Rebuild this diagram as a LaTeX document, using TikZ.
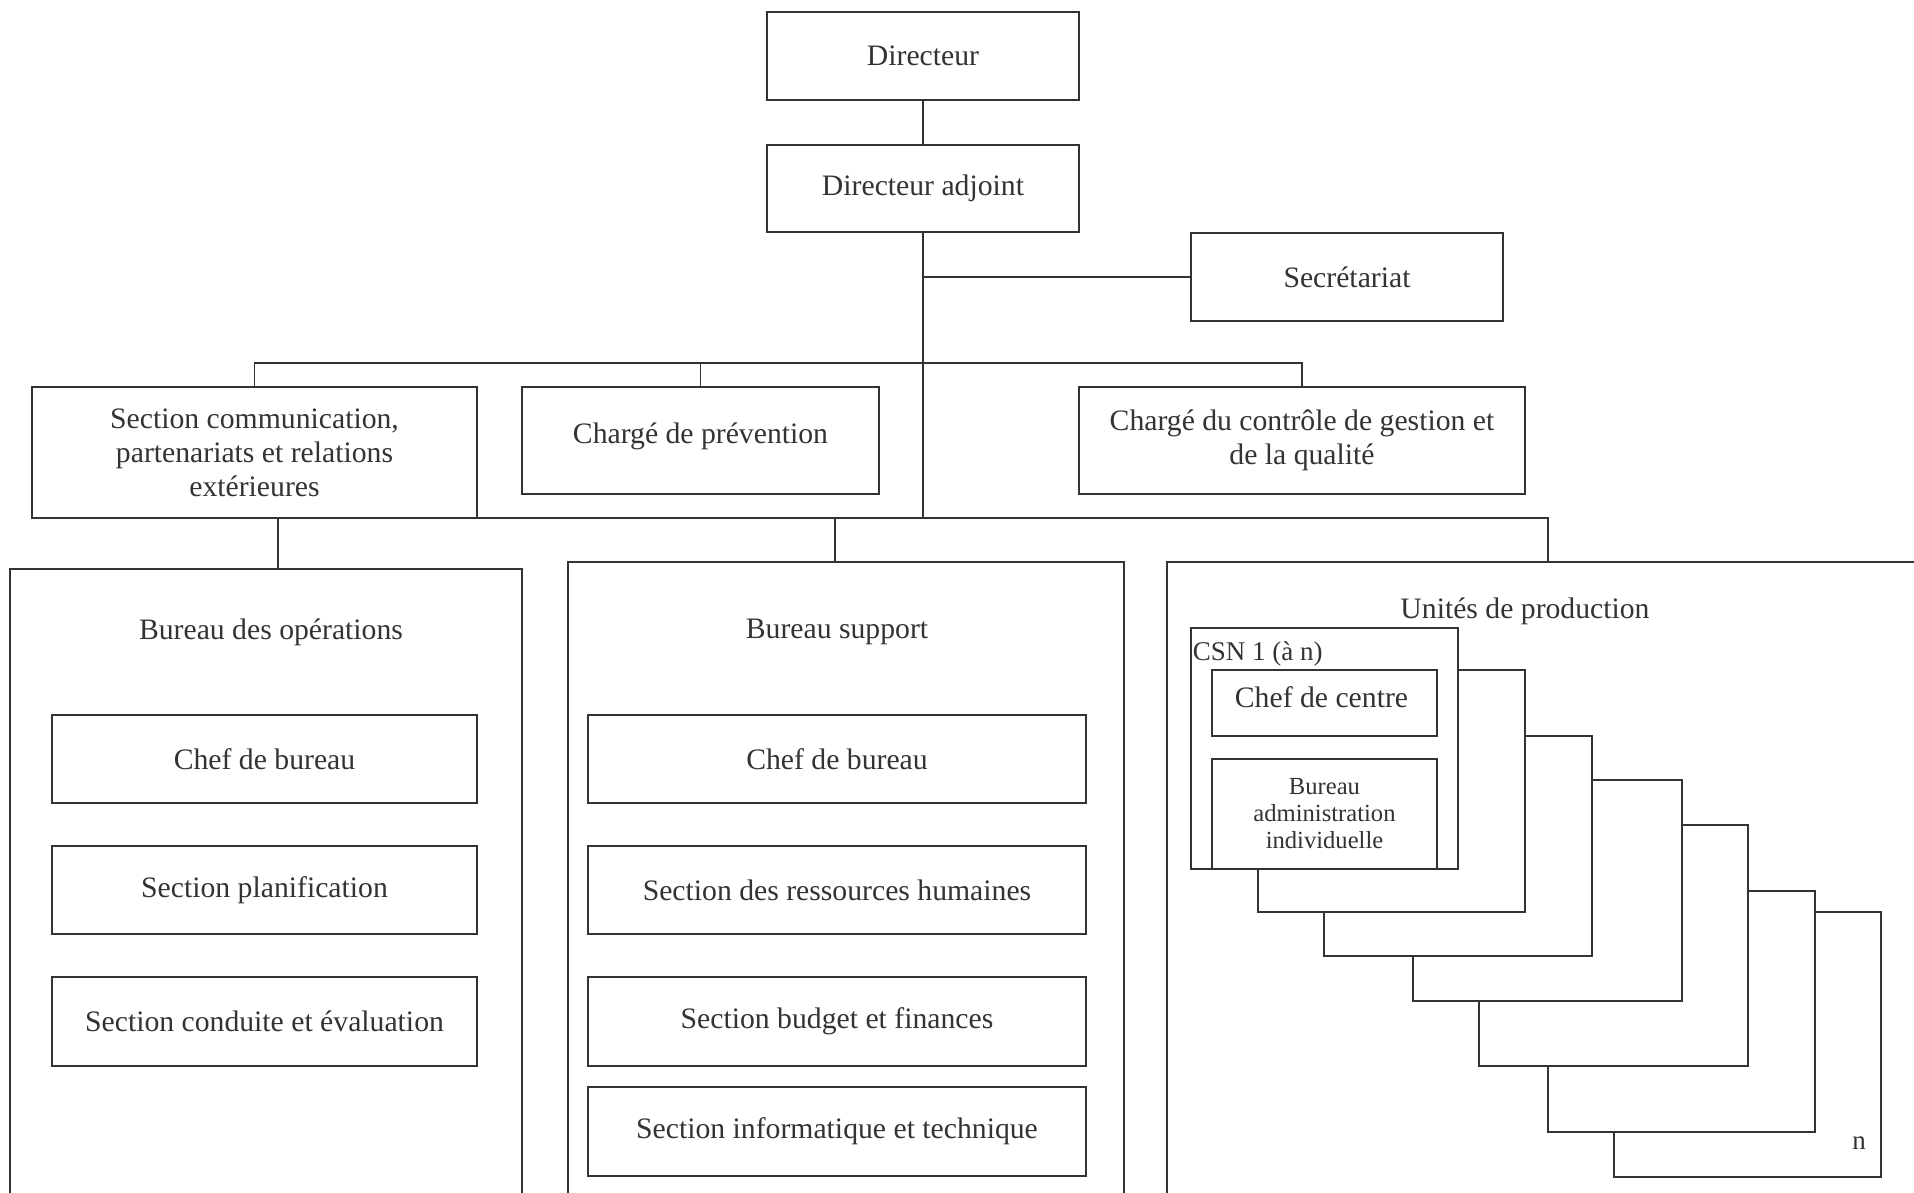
\documentclass[tikz,border=0pt]{standalone}
\usepackage{fontspec}
\setmainfont{Liberation Serif}
\definecolor{ink}{HTML}{333333}
\begin{document}
\begin{tikzpicture}[x=1pt,y=-1pt,line width=1.6pt,color=ink,
  box/.style={draw,fill=white,outer sep=0pt,inner sep=4pt,align=center,
    font=\fontsize{29.7}{34}\selectfont},
  panel/.style={draw,outer sep=0pt,inner sep=0pt},
  card/.style={draw,fill=white,outer sep=0pt,inner sep=0pt},
  txt/.style={inner sep=0pt,align=center,font=\fontsize{29.7}{34}\selectfont}]
\useasboundingbox (0,0) rectangle (1914,1192);
\clip (0,0) rectangle (1914,1192);

% open frames of the three lower divisions
\node[panel,minimum width=512pt,minimum height=700pt,anchor=north] (ops) at (266,569) {};
\node[panel,minimum width=556pt,minimum height=700pt,anchor=north] (supp) at (846,562) {};
\node[panel,minimum width=780pt,minimum height=700pt,anchor=north] (uni) at (1557,562) {};
\coordinate (opsin) at (278,569);
\coordinate (suppin) at (835,562);
\coordinate (uniin) at (1548,562);

% direction
\node[box,minimum width=312pt,minimum height=88pt] (dir) at (923,56) {Directeur};
\node[box,minimum width=312pt,minimum height=87pt] (da) at (923,188.5) {Directeur adjoint};
\node[box,minimum width=312pt,minimum height=88pt] (sec) at (1347,277) {Secrétariat};

% staff positions
\node[box,minimum width=445pt,minimum height=131pt] (comm) at (254.5,452.5)
  {Section communication,\\partenariats et relations\\extérieures};
\node[box,minimum width=357pt,minimum height=107pt,text depth=14pt] (prev) at (700.5,440.5) {Chargé de prévention};
\node[box,minimum width=446pt,minimum height=107pt] (ctrl) at (1302,440.5)
  {Chargé du contrôle de gestion et\\de la qualité};

% connectors
\coordinate (bus) at (923,363);
\draw (dir.south) -- (da.north);
\draw (da.south) -- (da.south |- comm.south);
\draw (da.south |- sec.west) -- (sec.west);
\draw (comm.north) |- (bus) -| (ctrl.north);
\draw (prev.north) -- (prev.north |- bus);
\draw (comm.south east) -- (comm.south east -| uniin) -- (uniin);
\draw (suppin) -- (suppin |- comm.south);
\draw (opsin) -- (opsin |- comm.south);

% Bureau des opérations
\node[txt] (opsT) at (271,632) {Bureau des opérations};
\node[box,minimum width=425pt,minimum height=88pt] (ops1) at (264.5,759) {Chef de bureau};
\node[box,minimum width=425pt,minimum height=88pt] (ops2) at (264.5,890) {Section planification};
\node[box,minimum width=425pt,minimum height=89pt] (ops3) at (264.5,1021.5) {Section conduite et évaluation};

% Bureau support
\node[txt] (suppT) at (837,632) {Bureau support};
\node[box,minimum width=498pt,minimum height=88pt] (supp1) at (837,759) {Chef de bureau};
\node[box,minimum width=498pt,minimum height=88pt] (supp2) at (837,890) {Section des ressources humaines};
\node[box,minimum width=498pt,minimum height=89pt] (supp3) at (837,1021.5) {Section budget et finances};
\node[box,minimum width=498pt,minimum height=89pt] (supp4) at (837,1131.5) {Section informatique et technique};

% Unités de production: stack of centres, back to front
\node[txt] (uniT) at (1525,611) {Unités de production};
\node[card,minimum width=267pt,minimum height=265pt] (csn7) at (1747.5,1044.5) {};
\node[card,minimum width=267pt,minimum height=241pt] (csn6) at (1681.5,1011.5) {};
\node[card,minimum width=269pt,minimum height=241pt] (csn5) at (1613.5,945.5) {};
\node[card,minimum width=269pt,minimum height=221pt] (csn4) at (1547.5,890.5) {};
\node[card,minimum width=268pt,minimum height=220pt] (csn3) at (1458,846) {};
\node[card,minimum width=267pt,minimum height=242pt] (csn2) at (1391.5,791) {};
\node[card,minimum width=267pt,minimum height=241pt] (csn1) at (1324.5,748.5) {};
\node[anchor=west,inner sep=0pt,font=\fontsize{27}{30}\selectfont] (csnL) at (1192,654) {CSN 1 (à n)};
\node[box,minimum width=225pt,minimum height=66pt,text depth=12pt] (chef) at (1324.5,703) {Chef de centre\hspace{6pt}};
\node[box,minimum width=225pt,minimum height=110pt,font=\fontsize{24.6}{27}\selectfont] (adm) at (1324.5,814)
  {Bureau\\administration\\individuelle};
\node[inner sep=0pt,font=\fontsize{27}{30}\selectfont] (nL) at (1859,1143) {n};
\end{tikzpicture}
\end{document}
